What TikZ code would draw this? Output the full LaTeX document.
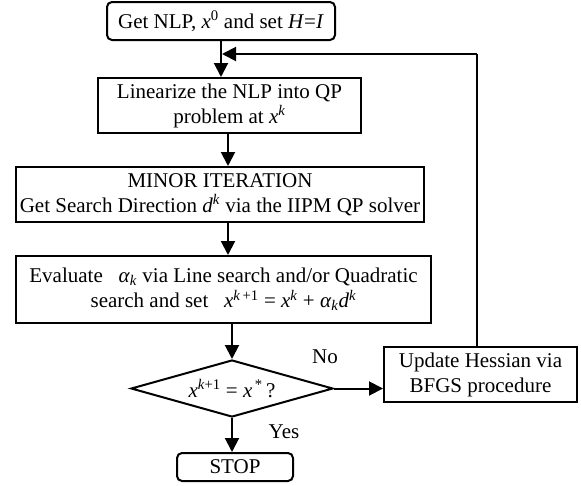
\documentclass[tikz,border=0pt]{standalone}
\usepackage{fontspec}
\setmainfont{Liberation Serif}
\usetikzlibrary{arrows.meta,shapes.geometric}

% italic variable with optional super-/subscripts
\newcommand{\vr}[1]{\textit{#1}}
\newcommand{\sps}[1]{\textsuperscript{#1}}
\newcommand{\sbs}[1]{\textsubscript{#1}}

\tikzset{
  every node/.style={font=\fontsize{21}{25}\selectfont, align=center, inner sep=0pt},
  procbox/.style={draw, line width=2pt, rectangle},
  termbox/.style={draw, line width=2pt, rectangle, rounded corners=5pt},
  decbox/.style={draw, line width=2pt, diamond, aspect=3.4},
  flow/.style={line width=2pt, -{Triangle[length=14pt,width=14pt]}},
  plain/.style={line width=2pt},
  lbl/.style={font=\fontsize{21}{25}\selectfont}
}

\begin{document}
\begin{tikzpicture}[x=1pt,y=-1pt]
\useasboundingbox (0,0) rectangle (581,485);

\node[termbox, minimum width=228pt, minimum height=38pt] (start) at (221,21)
  {Get NLP, \vr{x}\sps{0} and set \vr{H}=\vr{I}};
\node[procbox, minimum width=263pt, minimum height=55pt] (lin) at (229.5,105.5)
  {Linearize the NLP into QP\\ problem at \vr{x}\sps{\vr{k}}};
\node[procbox, minimum width=408pt, minimum height=55pt] (minor) at (220,194.5)
  {MINOR ITERATION\\ Get Search Direction \vr{d}\sps{\vr{k}} via the IIPM QP solver};
\node[procbox, minimum width=415pt, minimum height=67pt] (eval) at (223.5,289.5)
  {Evaluate\enspace\ \vr{α}\sbs{\vr{k}} via Line search and/or Quadratic\\
   search and set\enspace\ \vr{x}\sps{\vr{k}\,+1} = \vr{x}\sps{\vr{k}} + \vr{α}\sbs{\vr{k}}\vr{d}\sps{\vr{k}}};
\node[decbox, minimum width=202pt, minimum height=57pt] (dec) at (232,388.5)
  {\vr{x}\sps{\vr{k}+1} = \vr{x}\sps{\,*}\,?};
\node[procbox, minimum width=193pt, minimum height=55pt] (upd) at (480.5,374.5)
  {Update Hessian via\\ BFGS procedure};
\node[termbox, minimum width=116pt, minimum height=28pt] (stop) at (235,467)
  {STOP};

\node[lbl] (no) at (325,357) {No};
\node[lbl] (yes) at (284,432) {Yes};

% column of the main flow and corner of the return path
\coordinate (spine) at (228,0);
\coordinate (ret) at (477,54);

\draw[flow] (start.south) -- (start.south |- lin.north);
\draw[flow] (lin.south -| spine) -- (minor.north -| spine);
\draw[flow] (minor.south -| spine) -- (eval.north -| spine);
\draw[flow] (eval.south -| dec.north) -- (dec.north);
\draw[flow] (dec.south) -- (dec.south |- stop.north);
\draw[flow] (dec.east) -- (dec.east -| upd.west);
\draw[plain] (upd.north -| ret) -- (ret);
\draw[flow] (ret) -- ([xshift=1pt]ret -| start.south);
\end{tikzpicture}
\end{document}
